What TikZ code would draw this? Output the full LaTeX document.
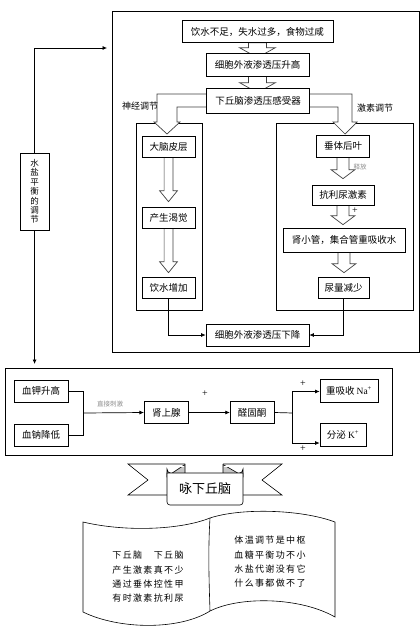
\documentclass[tikz,border=0pt]{standalone}
\usepackage{fontspec}
\setmainfont{Liberation Serif}
\newfontfamily\cjk{Noto Sans CJK SC}
\newfontfamily\cjkpoem[LetterSpace=15]{Noto Sans CJK SC}
\usetikzlibrary{arrows.meta,calc}
\pgfdeclarelayer{bg}
\pgfsetlayers{bg,main}
\newcommand\blk[6]{%
  \path[blkarrow] let \p1=(#1.south), \p2=(#2.north) in
    (\x1-#3pt,\y1) -- (\x1+#3pt,\y1) -- (\x1+#3pt,\y2-#6pt+#5pt) -- (\x1+#4pt,\y2-#6pt+#5pt)
    -- (\x1,\y2-#6pt) -- (\x1-#4pt,\y2-#6pt+#5pt) -- (\x1-#3pt,\y2-#6pt+#5pt) -- cycle;}
\begin{document}
\begin{tikzpicture}[x=1pt,y=-1pt,
  box/.style={draw,fill=white,line width=0.7pt,inner sep=0pt,font=\cjk\fontsize{9.5}{11}\selectfont},
  frame/.style={draw,line width=0.7pt},
  blkarrow/.style={draw=black!75,fill=white,line width=0.7pt,line join=miter},
  conn/.style={line width=0.7pt,-{Latex[length=4.5pt,width=4pt]}},
  wire/.style={line width=0.7pt},
  glabel/.style={font=\cjk\fontsize{6.5}{7}\selectfont,text=black!45,inner sep=0pt},
  lbl/.style={font=\cjk\fontsize{9}{10}\selectfont,inner sep=0pt},
  plus/.style={font=\fontsize{10}{10}\selectfont,inner sep=0pt},
  poem/.style={font=\cjkpoem\fontsize{9}{14.3}\selectfont,align=center,inner sep=0pt},
]
\useasboundingbox (0,0) rectangle (420,632);

% ---------- upper part: boxes ----------
\node[box,minimum width=151pt,minimum height=21.6pt] (b1) at (257.4,31.5) {饮水不足，失水过多，食物过咸};
\node[box,minimum width=103pt,minimum height=23pt] (b2) at (257.5,64.5) {细胞外液渗透压升高};
\node[box,minimum width=103pt,minimum height=25pt] (b3) at (258,100.5) {下丘脑渗透压感受器};

\node[box,minimum width=53pt,minimum height=21pt] (cortex) at (168.5,146.5) {大脑皮层};
\node[box,minimum width=53pt,minimum height=21pt] (thirst) at (168.5,217.5) {产生渴觉};
\node[box,minimum width=53pt,minimum height=21pt] (drink) at (168.5,287.5) {饮水增加};

\node[box,minimum width=53pt,minimum height=22pt] (pit) at (343,146) {垂体后叶};
\node[box,minimum width=62pt,minimum height=20pt] (adh) at (343,195) {抗利尿激素};
\node[box,minimum width=122pt,minimum height=24pt] (tub) at (344,240) {肾小管，集合管重吸收水};
\node[box,minimum width=51pt,minimum height=21pt] (urine) at (343.5,287.5) {尿量减少};

\node[box,minimum width=103pt,minimum height=22pt] (down) at (257.5,335) {细胞外液渗透压下降};

\node[lbl] (nerve) at (140,106) {神经调节};
\node[lbl] (horm) at (375,108) {激素调节};
\node[glabel] (rel) at (360,167) {释放};
\node[plus] (p1) at (355,211) {+};

% vertical label
\node[box,minimum width=29pt,minimum height=77pt,align=center,font=\cjk\fontsize{8.5}{9.4}\selectfont] (vl) at (34.6,191.5) {水\\盐\\平\\衡\\的\\调\\节};

\begin{pgfonlayer}{bg}
  \draw[frame] (112.5,11) rectangle (419.3,352.5);
  \draw[frame] (136,123) rectangle (202,310);
  \draw[frame] (276,123) rectangle (413,310);
  \blk{b1}{b2}{9}{18}{10}{5}
  \blk{b2}{b3}{9}{18}{10}{5}
  \blk{cortex}{thirst}{4.4}{9}{11}{-5}
  \blk{thirst}{drink}{4.4}{9}{11}{-4}
  \blk{pit}{adh}{6}{12}{9}{-6}
  \blk{adh}{tub}{6}{12}{9}{-3}
  \blk{tub}{urine}{6}{12}{9}{-4}
  \path[blkarrow] (212,94) -- (157,94) -- (157,122) -- (154,122) -- (167,134) -- (180,122)
    -- (177,122) -- (177,107) -- (212,107) -- cycle;
  \path[blkarrow] (304,94) -- (352,94) -- (352,122) -- (357,122) -- (345,134) -- (333,122)
    -- (338,122) -- (338,107) -- (304,107) -- cycle;
\end{pgfonlayer}

\draw[conn] (drink.south) |- (down.west);
\draw[conn] (urine.south) |- (down.east);

\coordinate (inA) at (107,48);
\coordinate (inB) at (34.6,364);
\draw[conn] (vl.north) |- (inA);
\draw[conn] (vl.south) -- (inB);

% ---------- lower part ----------
\draw[frame] (5,368) rectangle (392,455);
\node[box,minimum width=54pt,minimum height=22pt] (kup) at (41,391) {血钾升高};
\node[box,minimum width=54pt,minimum height=22pt] (nadn) at (41,435) {血钠降低};
\node[box,minimum width=44pt,minimum height=21.5pt] (adr) at (166.3,412.5) {肾上腺};
\node[box,minimum width=44pt,minimum height=21.5pt] (ald) at (252.2,412.5) {醛固酮};
\node[box,minimum width=58pt,minimum height=23pt] (rna) at (349,390.5) {重吸收 {\rmfamily Na\textsuperscript{+}}};
\node[box,minimum width=46pt,minimum height=23pt] (sk) at (343,434.5) {分泌 {\rmfamily K\textsuperscript{+}}};
\coordinate (j1) at (83.3,413);
\coordinate (j2) at (292.7,413);
\draw[wire] (kup.east) -| (j1);
\draw[wire] (nadn.east) -| (j1);
\draw[conn] (j1) -- (adr.west);
\node[glabel] (stim) at (110,404) {直接刺激};
\draw[conn] (adr.east) -- (ald.west);
\node[plus] (p2) at (205,394) {+};
\draw[wire] (ald.east) -- (j2);
\draw[conn] (j2) |- ([yshift=-1pt]rna.west);
\draw[conn] (j2) |- ([yshift=-8.5pt]sk.west);
\node[plus] (p3) at (303,384) {+};
\node[plus] (p4) at (303,449) {+};

% ---------- ribbon ----------
\draw[fill=white,line width=0.6pt] (185,464) -- (128,464) -- (148,480) -- (128,495) -- (167,495);
\draw[fill=white,line width=0.6pt] (223,464) -- (282,464) -- (262,480) -- (282,495) -- (243,495);
\filldraw[fill=gray!45,line width=0.6pt] (167,477) -- (167,469) arc[start angle=180,end angle=90,radius=4.5] -- (185,464.5) -- (185,477) -- cycle;
\filldraw[fill=gray!45,line width=0.6pt] (243,477) -- (243,469) arc[start angle=0,end angle=90,radius=4.5] -- (223,464.5) -- (223,477) -- cycle;
\draw[white,line width=0.6pt] (170,466.5) -- (184,466.5);
\draw[white,line width=0.6pt] (224,466.5) -- (240,466.5);
\draw[fill=white,line width=0.6pt] (167,473) [rounded corners=3pt]-- (167,505) -- (243,505) [sharp corners]-- (243,473) -- cycle;
\node[font=\cjk\fontsize{13}{14}\selectfont,inner sep=0pt] (title) at (205,489) {咏下丘脑};

% ---------- scroll ----------
\draw[fill=white,line width=0.6pt]
  (83,522) .. controls (125,532) and (180,530) .. (210,518)
  .. controls (240,508) and (300,509) .. (335,522)
  -- (335,617)
  .. controls (300,597) and (240,596) .. (210,611)
  .. controls (180,630) and (120,630) .. (83,612) -- cycle;
\draw[line width=0.6pt] (210,518) .. controls (208,550) and (209,580) .. (210,611);
\node[poem] (poemL) at (148,577) {下丘脑　下丘脑\\产生激素真不少\\通过垂体控性甲\\有时激素抗利尿};
\node[poem] (poemR) at (270,562) {体温调节是中枢\\血糖平衡功不小\\水盐代谢没有它\\什么事都做不了};
\end{tikzpicture}
\end{document}
